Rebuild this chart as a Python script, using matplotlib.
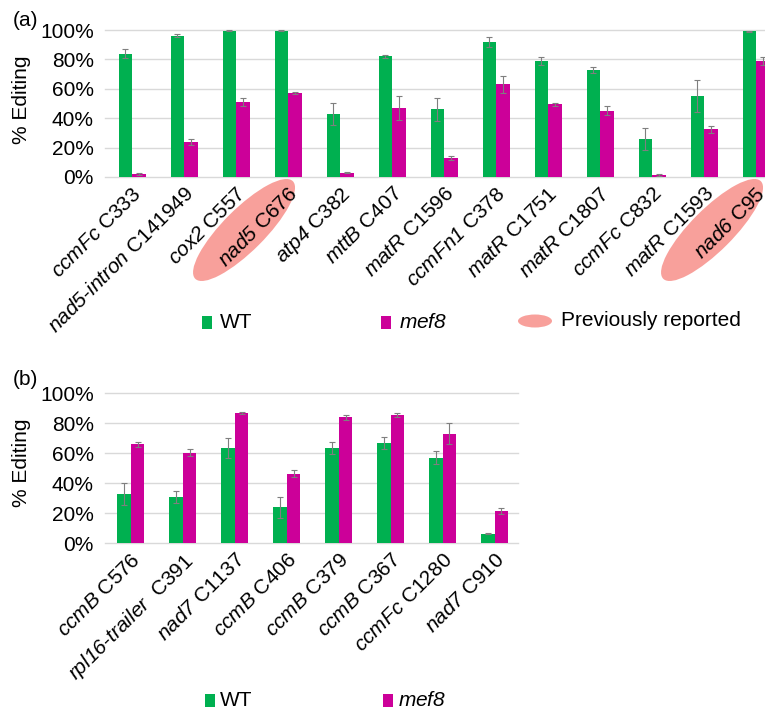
import matplotlib
matplotlib.use("Agg")
import matplotlib.pyplot as plt
import numpy as np
from matplotlib.patches import Ellipse, Rectangle
from matplotlib.transforms import IdentityTransform

plt.rcParams["font.family"] = ["Liberation Sans", "DejaVu Sans"]
# math mode is only used for the italic gene names (digits included)
plt.rcParams["mathtext.fontset"] = "custom"
plt.rcParams["mathtext.rm"] = "Liberation Sans:italic"
plt.rcParams["mathtext.it"] = "Liberation Sans:italic"

# ---- panel (a): MEF8 target sites ----
genes_a = ["ccmFc", "nad5-intron", "cox2", "nad5", "atp4", "mttB", "matR",
           "ccmFn1", "matR", "matR", "ccmFc", "matR", "nad6"]
sites_a = ["C333", "C141949", "C557", "C676", "C382", "C407", "C1596",
           "C378", "C1751", "C1807", "C832", "C1593", "C95"]
wt_a = [84, 96, 99.5, 99.5, 43, 82, 46, 92, 79, 73, 26, 55, 99]
wt_err_a = [3, 1, 0.5, 0.3, 7.5, 1, 8, 3.5, 2.5, 2, 7.5, 11, 0.3]
mef8_a = [2, 24, 51, 57, 3, 47, 13, 63, 49.5, 45, 1.5, 32.5, 79]
mef8_err_a = [0.5, 2, 3, 0.5, 0.5, 8, 1.5, 6, 1, 3, 0.5, 2.5, 2.5]
previously_reported = ["nad5 C676", "nad6 C95"]

# ---- panel (b): sites with increased editing ----
genes_b = ["ccmB", "rpl16-trailer", "nad7", "ccmB", "ccmB", "ccmB", "ccmFc", "nad7"]
sites_b = ["C576", " C391", "C1137", "C406", "C379", "C367", "C1280", "C910"]
wt_b = [33, 31, 63.5, 24, 63.5, 67, 57, 6.5]
wt_err_b = [7.5, 4, 6.5, 7, 4, 4, 4.3, 0.5]
mef8_b = [66, 60.5, 87, 46.5, 84, 85.5, 73, 21.5]
mef8_err_b = [1.5, 2.5, 0.5, 2.5, 1.5, 1.5, 7, 2]

tick_vals = [0, 20, 40, 60, 80, 100]

GREEN = "#00B050"
MAGENTA = "#CC0099"
PINK = "#F8A09B"
GRID = "#D9D9D9"
ERR = "#7F7F7F"
FS = 15

W, H = 765, 711
fig = plt.figure(figsize=(W / 100, H / 100), dpi=100)


def axes_px(left, top, right, bottom):
    return fig.add_axes([left / W, 1 - bottom / H, (right - left) / W, (bottom - top) / H])


def italic_label(gene, site):
    parts = gene.split("-")
    g = "-".join(r"$%s$" % p for p in parts)
    return g + " " + site


def draw_panel(ax, genes, sites, wt, wt_err, mt, mt_err, xlim):
    x = np.arange(len(genes))
    w = 0.26
    ax.bar(x - w / 2, wt, width=w, color=GREEN, zorder=2)
    ax.bar(x + w / 2, mt, width=w, color=MAGENTA, zorder=2)
    ax.errorbar(x - w / 2, wt, yerr=wt_err, fmt="none", ecolor=ERR,
                elinewidth=0.8, capsize=2, capthick=0.8, zorder=3, clip_on=False)
    ax.errorbar(x + w / 2, mt, yerr=mt_err, fmt="none", ecolor=ERR,
                elinewidth=0.8, capsize=2, capthick=0.8, zorder=3, clip_on=False)
    ax.set_xlim(*xlim)
    ax.set_ylim(0, 100)
    ax.set_yticks(tick_vals)
    ax.set_yticklabels([f"{v}%" for v in tick_vals], fontsize=FS)
    ax.set_xticks(x)
    ax.set_xticklabels([italic_label(g, s) for g, s in zip(genes, sites)],
                       rotation=45, ha="right", rotation_mode="anchor", fontsize=FS)
    ax.tick_params(axis="both", length=0)
    ax.tick_params(axis="y", pad=8)
    ax.tick_params(axis="x", pad=5)
    for s in ax.spines.values():
        s.set_visible(False)
    ax.yaxis.grid(True, color=GRID, linewidth=1)
    for gl in ax.yaxis.get_gridlines():
        gl.set_clip_on(False)
    ax.set_axisbelow(True)
    ax.set_facecolor("none")
    return x


ax_a = axes_px(105, 30, 105 + 13.04 * 52, 177)
x_a = draw_panel(ax_a, genes_a, sites_a, wt_a, wt_err_a, mef8_a, mef8_err_a, (-0.52, 12.52))

ax_b = axes_px(105, 393.3, 518, 543.3)
x_b = draw_panel(ax_b, genes_b, sites_b, wt_b, wt_err_b, mef8_b, mef8_err_b, (-0.5, 7.45))

# y-axis titles and panel letters
fig.text(22 / W, 1 - 100 / H, "% Editing", rotation=90, ha="center", va="center", fontsize=FS)
fig.text(22 / W, 1 - 463 / H, "% Editing", rotation=90, ha="center", va="center", fontsize=FS)
fig.text(13 / W, 1 - 20 / H, "(a)", ha="left", va="center", fontsize=FS)
fig.text(13 / W, 1 - 380 / H, "(b)", ha="left", va="center", fontsize=FS)

# highlight previously reported sites behind their labels
labels_a = [f"{g} {s}" for g, s in zip(genes_a, sites_a)]
for name in previously_reported:
    i = labels_a.index(name)
    xd, yd = ax_a.transData.transform((i, 0))
    e = Ellipse((xd - 44, yd - 53), width=138, height=42, angle=45,
                facecolor=PINK, edgecolor="none", transform=IdentityTransform(), zorder=-1)
    fig.add_artist(e)


# legends
def swatch(xp, yp, color):
    r = Rectangle((xp, H - yp - 6.5), 9.5, 13, facecolor=color, edgecolor="none",
                  transform=IdentityTransform())
    fig.add_artist(r)


def legend_text(xp, yp, s):
    fig.text(xp / W, 1 - yp / H, s, ha="left", va="center", fontsize=FS)


swatch(202, 322, GREEN)
legend_text(220, 323, "WT")
swatch(381, 322, MAGENTA)
legend_text(399, 323, r"$mef8$")
fig.add_artist(Ellipse((535, H - 321), width=34, height=13, facecolor=PINK,
                       edgecolor="none", transform=IdentityTransform()))
legend_text(561, 320, "Previously reported")

swatch(205, 700, GREEN)
legend_text(220, 701, "WT")
swatch(383, 700, MAGENTA)
legend_text(398, 701, r"$mef8$")

fig.savefig("out.png", dpi=100)
